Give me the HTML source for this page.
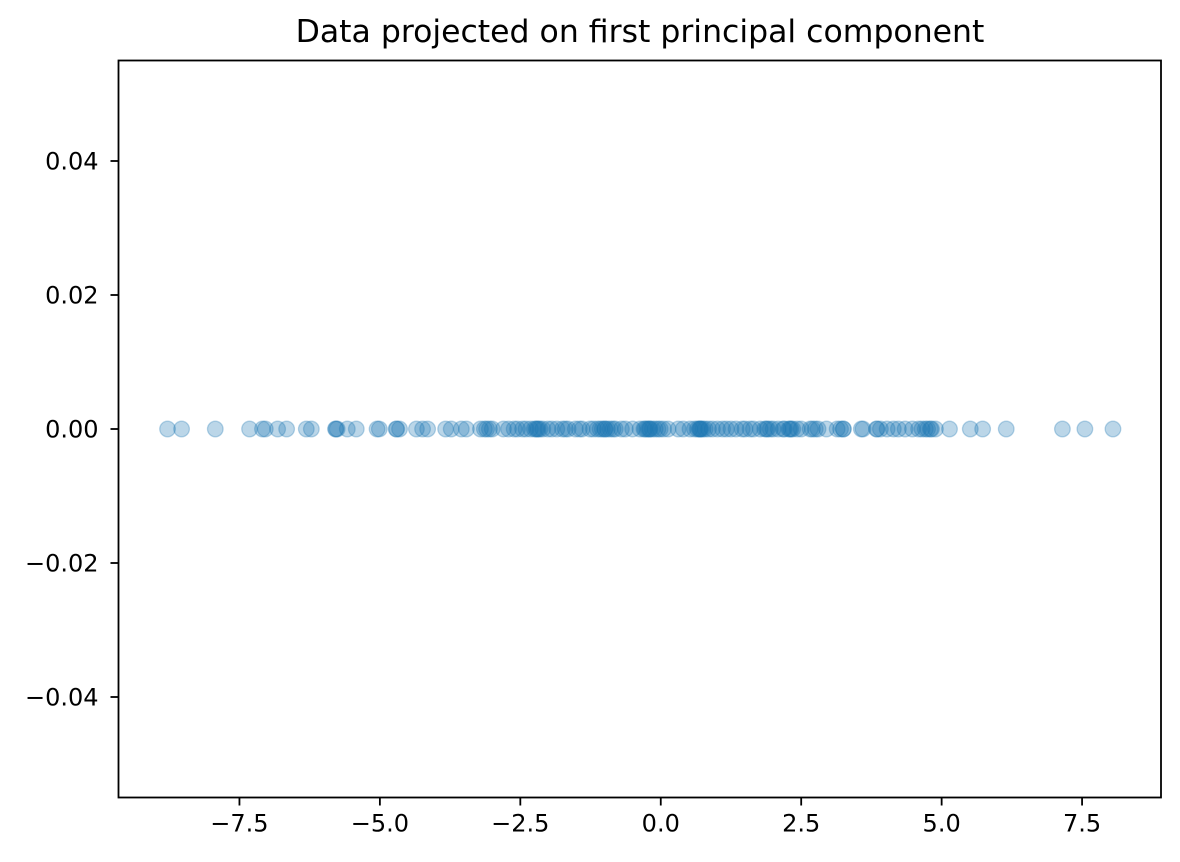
<!DOCTYPE html>
<html><head><meta charset="utf-8"><style>
body{margin:0;background:#fff;}
svg{display:block;font-family:"DejaVu Sans","Liberation Sans",sans-serif;}
</style></head><body>
<svg id="chart" width="1180" height="862">
<text x="640" y="42" text-anchor="middle" font-size="31.5">Data projected on first principal component</text>
<g id="marks"></g>
<g id="axes"></g>
<rect x="118.5" y="60.5" width="1042.5" height="737" fill="none" stroke="#000" stroke-width="1.8"/>
</svg>
<script>
const xValues=[-8.78,-8.53,-7.93,-7.32,-7.09,-7.04,-6.82,-6.66,-6.31,-6.22,-5.79,-5.76,-5.78,-5.58,-5.42,-5.05,-5.01,-4.71,-4.65,-4.7,-4.35,-4.24,-4.15,-3.83,-3.73,-3.55,-3.46,-3.21,-3.14,-3.05,-3.1,-2.71,-2.61,-2.46,-2.32,-2.22,-2.2,-2.25,-2.15,-2.01,-1.94,-1.75,-1.65,-1.52,-1.40,-1.26,-1.13,-1.04,-0.99,-1.0,-0.95,-0.90,-0.81,-0.63,-0.37,-0.28,-0.25,-0.2,-0.19,-0.10,-0.01,0.13,0.31,0.52,0.65,0.70,0.7,0.72,0.79,0.92,1.01,1.17,1.34,1.50,1.59,1.77,1.88,1.9,1.95,2.09,2.18,2.32,2.3,2.35,2.43,2.66,2.75,2.95,3.14,3.25,3.25,3.57,3.60,3.84,3.91,4.03,4.14,4.23,4.35,4.48,4.59,4.71,4.82,4.8,4.89,5.14,5.51,5.73,6.15,7.15,7.55,8.05,
-3.0,-2.8,-2.55,-2.4,-2.18,-2.1,-1.85,-1.7,-1.45,-1.2,-1.08,-0.85,-0.7,-0.5,-0.3,-0.22,-0.15,-0.05,0.05,0.4,0.6,0.68,0.75,0.85,1.1,1.25,1.45,1.65,1.85,2.0,2.2,2.28,2.5,2.7,2.8,3.2,3.85,4.65,4.75];
const yValues=xValues.map(()=>0);
const xTicks=[-7.5,-5.0,-2.5,0.0,2.5,5.0,7.5];
const yTicks=[0.04,0.02,0.00,-0.02,-0.04];
const xMin=-9.653,xMax=8.905,yMin=-0.055,yMax=0.055;
const L=118.5,R=1161,T=60.5,B=797.5;
const sx=v=>L+(v-xMin)/(xMax-xMin)*(R-L);
const sy=v=>B-(v-yMin)/(yMax-yMin)*(B-T);
const NS="http://www.w3.org/2000/svg";
const marks=document.getElementById('marks'),axes=document.getElementById('axes');
const fmt=v=>(v<0?"\u2212":"")+Math.abs(v).toFixed(1);
xValues.forEach((v,i)=>{
 const c=document.createElementNS(NS,'circle');
 c.setAttribute('cx',sx(v));c.setAttribute('cy',sy(yValues[i]));c.setAttribute('r',7.8);
 c.setAttribute('fill','#1f77b4');c.setAttribute('fill-opacity','0.3');
 c.setAttribute('stroke','#1f77b4');c.setAttribute('stroke-opacity','0.3');c.setAttribute('stroke-width','1.3');
 
 
 marks.appendChild(c);
});
xTicks.forEach(v=>{
 const x=sx(v);
 const l=document.createElementNS(NS,'line');
 l.setAttribute('x1',x);l.setAttribute('x2',x);l.setAttribute('y1',B);l.setAttribute('y2',B+8);l.setAttribute('stroke','#000');l.setAttribute('stroke-width','1.8');
 
 
 axes.appendChild(l);
 const t=document.createElementNS(NS,'text');
 t.setAttribute('x',x);t.setAttribute('y',B+34);t.setAttribute('text-anchor','middle');t.setAttribute('font-size','24');
 t.textContent=fmt(v);
 
 
 axes.appendChild(t);
});
yTicks.forEach(v=>{
 const y=sy(v);
 const l=document.createElementNS(NS,'line');
 l.setAttribute('x1',L-8);l.setAttribute('x2',L);l.setAttribute('y1',y);l.setAttribute('y2',y);l.setAttribute('stroke','#000');l.setAttribute('stroke-width','1.8');
 
 
 axes.appendChild(l);
 const t=document.createElementNS(NS,'text');
 t.setAttribute('x',L-20);t.setAttribute('y',y+8.5);t.setAttribute('text-anchor','end');t.setAttribute('font-size','24');
 t.textContent=(v<0?"\u2212":"")+Math.abs(v).toFixed(2);
 
 
 axes.appendChild(t);
});
</script>
</body></html>
